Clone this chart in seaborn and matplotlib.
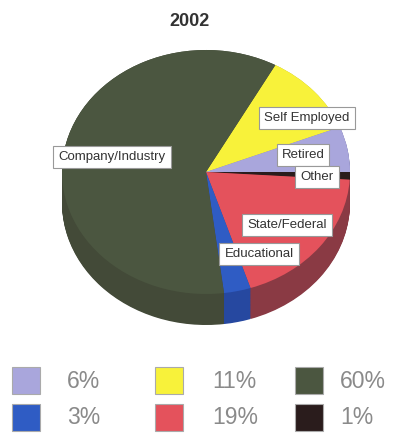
import matplotlib
matplotlib.use("Agg")
import matplotlib.pyplot as plt
from matplotlib.patches import Rectangle
import seaborn as sns

# ---- data ----
title = "2002"
categories = ["Self Employed", "Retired", "Other", "State/Federal", "Educational", "Company/Industry"]
shares = [11, 6, 1, 19, 3, 60]
top_colors = ["#f8f23a", "#a9a6dc", "#2a1c1c", "#e4525c", "#2f5cc4", "#4b5640"]
side_colors = ["#b8b428", "#7e7cae", "#1c1212", "#8a3a44", "#2648a0", "#434a38"]
legend_order = ["Retired", "Educational", "Self Employed", "State/Federal", "Company/Industry", "Other"]

# label box centres (pixel coordinates)
label_pos = {
    "Company/Industry": (112, 157),
    "Self Employed": (307, 118),
    "Retired": (303, 155),
    "Other": (317, 177),
    "State/Federal": (287, 225),
    "Educational": (259, 254),
}

sns.set_theme(style="white")
plt.rcParams["font.family"] = ["Liberation Sans", "DejaVu Sans"]

W, H = 396, 440
fig = plt.figure(figsize=(W / 100, H / 100), dpi=100)
fig.patch.set_facecolor("white")

# ---- pie (3D look) ----
left, right, top, bottom = 62, 350, 50, 325
ry_px = 122
depth = (bottom - top - 2 * ry_px) / ry_px
pax = fig.add_axes([left / W, (H - bottom) / H, (right - left) / W, (bottom - top) / H])
nlayers = 40
for i in range(nlayers + 1):
    off = -depth + depth * i / nlayers
    pax.pie(shares, colors=side_colors, startangle=61.2, counterclock=False,
            center=(0, off), radius=1.0, wedgeprops=dict(linewidth=0))
pax.pie(shares, colors=top_colors, startangle=61.2, counterclock=False,
        center=(0, 0), radius=1.0, wedgeprops=dict(linewidth=0))
pax.set_aspect("auto")
pax.set_xlim(-1, 1)
pax.set_ylim(-1 - depth, 1)
pax.axis("off")

# ---- overlay in pixel coordinates ----
ox = fig.add_axes([0, 0, 1, 1])
ox.set_xlim(0, W)
ox.set_ylim(H, 0)
ox.axis("off")
ox.patch.set_alpha(0)

ox.text(190, 21, title, ha="center", va="center", fontsize=13, fontweight="bold", color="#333333")

for cat in categories:
    x, y = label_pos[cat]
    ox.text(x, y, cat, ha="center", va="center", fontsize=9.5, color="#333333",
            bbox=dict(boxstyle="square,pad=0.38", facecolor="white", edgecolor="#999999", linewidth=0.8))

# ---- legend ----
col_sq_x = [12, 155, 295]
col_tx_x = [67, 212, 340]
row_y = [381, 418]
for k, cat in enumerate(legend_order):
    col, row = divmod(k, 2)
    idx = categories.index(cat)
    ox.add_patch(Rectangle((col_sq_x[col], row_y[row] - 13.5), 28, 27,
                           facecolor=top_colors[idx], edgecolor="#aaaaaa", linewidth=0.8))
    ox.text(col_tx_x[col], row_y[row], f"{shares[idx]}%", ha="left", va="center",
            fontsize=16.5, color="#8a8a8a")

fig.savefig("out.png", dpi=100, facecolor="white")
